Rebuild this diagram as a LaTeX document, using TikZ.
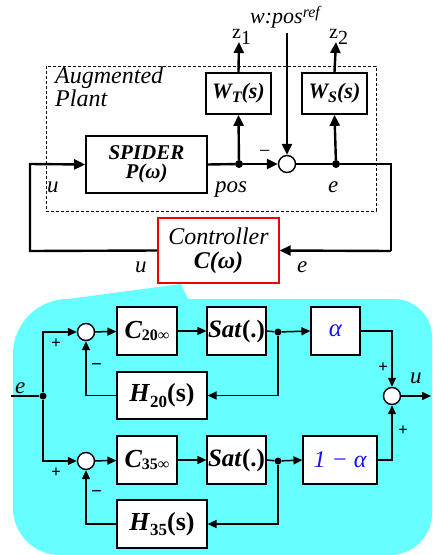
\documentclass[tikz,border=0pt]{standalone}
\usepackage{fontspec}
\setmainfont{Liberation Serif}
\usetikzlibrary{arrows.meta}
\definecolor{cyanbg}{RGB}{102,255,255}
\definecolor{ctrlred}{RGB}{240,0,0}
\definecolor{alphablue}{RGB}{20,20,235}
\newcommand{\fs}[1]{\fontsize{#1}{#1}\selectfont}
\begin{document}
\begin{tikzpicture}[x=1pt,y=-1pt,
  topblk/.style={draw, fill=white, line width=1.7pt, inner sep=0pt, align=center},
  botblk/.style={draw, fill=white, line width=1.2pt, inner sep=0pt, align=center},
  topln/.style={line width=2.4pt, >={Triangle[length=11pt,width=10pt]}},
  botln/.style={line width=1.5pt, >={Triangle[length=9pt,width=8pt]}},
  sumc/.style={circle, draw, fill=white, inner sep=0pt, minimum size=17pt, line width=1.4pt},
  dotn/.style={circle, fill=black, inner sep=0pt, minimum size=#1},
  lbl/.style={inner sep=0pt, anchor=base west}
]
\useasboundingbox (0,0) rectangle (433,555);

% ---------- cyan callout ----------
\fill[cyanbg] (13,354) .. controls (13,323.6) and (37.6,299) .. (68,299)
  -- (181,284) -- (188,299) -- (394,299)
  .. controls (415,299) and (432,316) .. (432,337)
  -- (432,513) .. controls (432,536.2) and (413.2,555) .. (390,555)
  -- (60,555) .. controls (34,555) and (13,534) .. (13,508) -- cycle;

% ---------- top: augmented plant ----------
\draw[line width=1pt, dash pattern=on 3pt off 2pt] (46,66) rectangle (376,211);
\node[lbl, font=\fs{24}\itshape] (aug1) at (55,83) {Augmented};
\node[lbl, font=\fs{24}\itshape] (aug2) at (55,106) {Plant};

\node[topblk, minimum width=121pt, minimum height=57pt, font=\fontsize{21}{19}\selectfont\bfseries\itshape] (spider) at (146.5,164.5) {SPIDER\\P(ω)};
\node[topblk, minimum width=65pt, minimum height=41pt, font=\fs{22}\bfseries\itshape] (wt) at (238.5,93.5) {W\raisebox{-0.35ex}{\fs{16}T}(s)};
\node[topblk, minimum width=65pt, minimum height=41pt, font=\fs{22}\bfseries\itshape] (ws) at (334.5,93.5) {W\raisebox{-0.35ex}{\fs{16}S}(s)};
\node[sumc] (sum0) at (287,164) {};
\node[dotn=8pt] (dot1) at (239,164) {};
\node[dotn=8pt] (dot2) at (336,164) {};
\node[draw=ctrlred, fill=white, line width=1.4pt, minimum width=121pt, minimum height=65pt, inner sep=0pt, align=center, font=\fontsize{24}{24}\selectfont\itshape] (ctrl) at (218.5,250.5) {Controller\\\textbf{C(ω)}};

\coordinate (lb) at (30,251);
\coordinate (lt) at (30,164);
\coordinate (rt) at (391,164);
\coordinate (rb) at (391,251);
\coordinate (z1) at (239,42);
\coordinate (z2) at (336,42);
\coordinate (wref) at (287,33);

\draw[topln,->] (ctrl.west) -- (lb) -- (lt) -- (spider.west);
\draw[topln] (spider.east) -- (dot1);
\draw[topln,->] (dot1) -- (sum0.west);
\draw[topln] (sum0.east) -- (dot2) -- (rt) -- (rb);
\draw[topln,->] (rb) -- (ctrl.east);
\draw[topln,->] (dot1) -- (wt.south);
\draw[topln,->] (dot2) -- (ws.south);
\draw[topln,->] (wt.north) -- (z1);
\draw[topln,->] (ws.north) -- (z2);
\draw[topln,->] (wref) -- (sum0.north);

\node[lbl, font=\fs{22}\itshape] (wlab) at (250,23) {w:pos\raisebox{0.55ex}{\fs{16}ref}};
\node[lbl, font=\fs{20}] (z1l) at (232,38) {z\raisebox{-6pt}{1}};
\node[lbl, font=\fs{20}] (z2l) at (329,38) {z\raisebox{-6pt}{2}};
\node[lbl, font=\fs{23}\itshape] (ul1) at (47,192) {u};
\node[lbl, font=\fs{23}\itshape] (posl) at (215,192) {pos};
\node[lbl, font=\fs{23}\itshape] (el1) at (328,192) {e};
\node[lbl, font=\fs{20}] (minus0) at (259,157) {−};
\node[lbl, font=\fs{23}\itshape] (ul2) at (135,272) {u};
\node[lbl, font=\fs{23}\itshape] (el2) at (297,272) {e};

% ---------- bottom: controller internals ----------
\node[sumc] (sA) at (86,332) {};
\node[sumc] (sB) at (86,461) {};
\node[sumc] (sum) at (392,396) {};
\node[botblk, minimum width=60pt, minimum height=48pt] (c20) at (147,331) {{\fs{26}\bfseries\itshape C}\raisebox{-0.45ex}{\fs{16}\bfseries 20∞}};
\node[botblk, minimum width=60pt, minimum height=48pt] (c35) at (147,460) {{\fs{26}\bfseries\itshape C}\raisebox{-0.45ex}{\fs{16}\bfseries 35∞}};
\node[botblk, minimum width=59pt, minimum height=48pt, font=\fs{25}\bfseries] (sat1) at (236.5,331) {\textit{Sat}(.)};
\node[botblk, minimum width=59pt, minimum height=48pt, font=\fs{25}\bfseries] (sat2) at (236.5,460) {\textit{Sat}(.)};
\node[botblk, minimum width=49pt, minimum height=48pt, font=\fs{25}\itshape, text=alphablue] (alpha) at (335.5,331) {α};
\node[botblk, minimum width=74pt, minimum height=48pt, font=\fs{24}\itshape, text=alphablue] (oma) at (340,460) {1 − α};
\node[botblk, minimum width=90pt, minimum height=47pt, font=\fs{26}\bfseries] (h20) at (162,395.5) {\textit{H}\raisebox{-0.45ex}{\fs{17}20}(s)};
\node[botblk, minimum width=90pt, minimum height=48pt, font=\fs{26}\bfseries] (h35) at (162,524) {\textit{H}\raisebox{-0.45ex}{\fs{17}35}(s)};
\node[dotn=7pt] (dE) at (43,396) {};
\node[dotn=7pt] (dA) at (278,332) {};
\node[dotn=7pt] (dB) at (278,461) {};
\coordinate (ein) at (11,396);
\coordinate (uout) at (431,396);

\draw[botln] (ein) -- (dE);
\draw[botln,->] (dE) |- (sA.west);
\draw[botln,->] (dE) |- (sB.west);
\draw[botln,->] (sA) -- (c20);
\draw[botln,->] (c20) -- (sat1);
\draw[botln] (sat1.east) -- (dA);
\draw[botln,->] (dA) -- (alpha.west);
\draw[botln,->] (dA) |- (h20.east);
\draw[botln,->] (h20.west) -| (sA.south);
\draw[botln,->] (sB) -- (c35);
\draw[botln,->] (c35) -- (sat2);
\draw[botln] (sat2.east) -- (dB);
\draw[botln,->] (dB) -- (oma.west);
\draw[botln,->] (dB) |- (h35.east);
\draw[botln,->] (h35.west) -| (sB.south);
\draw[botln,->] (alpha.east) -| (sum.north);
\draw[botln,->] (oma.east) -| (sum.south);
\draw[botln,->] (sum.east) -- (uout);

\node[lbl, font=\fs{23}\itshape] (eb) at (15,393) {e};
\node[lbl, font=\fs{23}\itshape] (ub) at (410,383) {u};
\node[lbl, font=\fs{17}\bfseries\itshape] (p1) at (51,348) {+};
\node[lbl, font=\fs{17}\bfseries\itshape] (p2) at (51,477) {+};
\node[lbl, font=\fs{17}\bfseries\itshape] (p3) at (378,372) {+};
\node[lbl, font=\fs{17}\bfseries\itshape] (p4) at (398,435) {+};
\node[lbl, font=\fs{19}\bfseries] (m1) at (91,370) {−};
\node[lbl, font=\fs{19}\bfseries] (m2) at (91,497) {−};
\end{tikzpicture}
\end{document}
